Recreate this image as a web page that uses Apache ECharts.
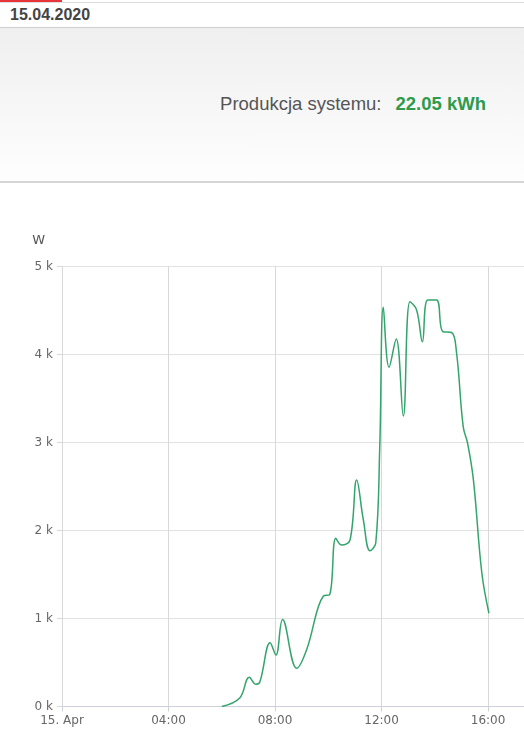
<!DOCTYPE html>
<html>
<head>
<meta charset="utf-8">
<script src="https://cdn.jsdelivr.net/npm/echarts@6/dist/echarts.min.js"></script>
<style>
html,body{margin:0;padding:0;width:524px;height:750px;overflow:hidden;background:#fff;font-family:"Liberation Sans",Arial,sans-serif;}
#redbar{position:absolute;left:0;top:0;width:62px;height:2px;background:#e8343a;}
#topline{position:absolute;left:0;top:2px;width:524px;height:1px;background:#ddd;}
#date{position:absolute;left:10px;top:6px;font-size:16px;font-weight:bold;color:#444;line-height:18px;}
#panel{position:absolute;left:0;top:27px;width:524px;height:153px;border-top:1px solid #cfcfcf;border-bottom:2px solid #d6d6d6;background:linear-gradient(#efefef,#fefefe);}
#prod{position:absolute;right:38px;top:65px;font-size:18.5px;color:#555;line-height:22px;white-space:nowrap;}
#prod b{color:#2e9a4c;margin-left:14px;}
#chart{position:absolute;left:0;top:182px;width:524px;height:568px;}
</style>
</head>
<body>
<div id="redbar"></div><div id="topline"></div>
<div id="date">15.04.2020</div>
<div id="panel"><div id="prod">Produkcja systemu:<b>22.05 kWh</b></div></div>
<div id="chart"></div>
<script>
// Time of day (HH:MM) and power (W)
var times = ["06:00","06:40","07:02","07:17","07:26","07:49","08:02","08:17","08:49","09:11","09:49","10:03","10:17","10:30","10:49","11:04","11:19","11:34","11:47","11:56","12:04","12:17","12:33","12:49","13:04","13:19","13:32","13:44","14:04","14:18","14:38","14:49","15:04","15:14","15:27","15:46","16:02"];
var power = [0,93,332,252,282,725,585,990,434,642,1256,1270,1911,1835,1892,2574,2120,1770,1858,2952,4536,3855,4176,3301,4600,4506,4145,4620,4620,4260,4250,4020,3180,2990,2575,1517,1060];
var xTicks = ["15. Apr","04:00","08:00","12:00","16:00"];
var yUnit = "W";

function toHours(s){var p=s.split(":");return +p[0]+(+p[1])/60;}
var data = times.map(function(t,i){return [toHours(t), power[i]];});

var chart = echarts.init(document.getElementById('chart'));
var lblFont = {fontFamily:'DejaVu Sans', fontSize:12, color:'#666'};
chart.setOption({
  animation:false,
  grid:{left:62,right:0,top:84.5,bottom:43.5},
  xAxis:{
    type:'value', min:0, max:17.35, interval:4,
    axisLine:{show:true,lineStyle:{color:'#ccd0d8'}},
    axisTick:{show:true,length:5,lineStyle:{color:'#ccd0d8'}},
    axisLabel:Object.assign({margin:8,showMaxLabel:false,formatter:function(v){return xTicks[Math.round(v/4)]||'';}},lblFont),
    splitLine:{show:true,lineStyle:{color:'#d8d8d8'}}
  },
  yAxis:{
    type:'value', min:0, max:5000, interval:1000,
    name:yUnit, nameLocation:'end', nameGap:26,
    nameTextStyle:{fontFamily:'DejaVu Sans',fontSize:13,color:'#555',align:'right',verticalAlign:'middle',padding:[0,17,0,0]},
    axisLine:{show:true,lineStyle:{color:'#d8d8d8'}},
    axisTick:{show:true,length:5,lineStyle:{color:'#d8d8d8'}},
    axisLabel:Object.assign({margin:9,formatter:function(v){return (v/1000)+' k';}},lblFont),
    splitLine:{show:true,lineStyle:{color:'#e2e2e2'}}
  },
  series:[{
    type:'line', data:data, smooth:0.4, showSymbol:false,
    lineStyle:{color:'#33a46c',width:1.5}
  }]
});
</script>
</body>
</html>
